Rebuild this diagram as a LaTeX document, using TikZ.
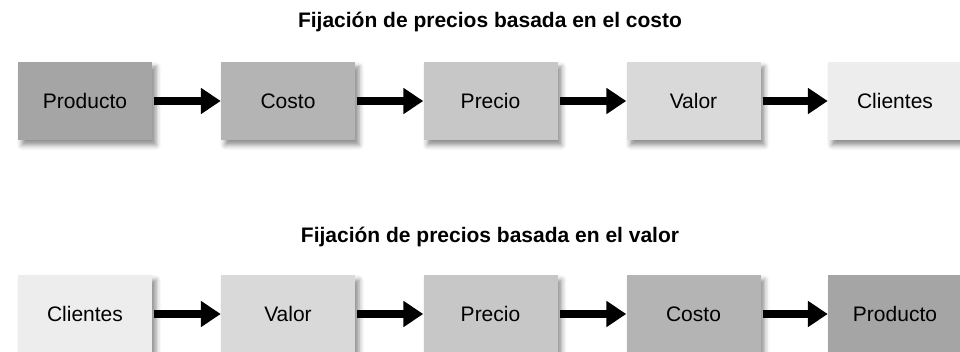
\documentclass[tikz,border=0pt]{standalone}
\usepackage{fontspec}
\setmainfont{Liberation Sans}
\usepackage{tikz}
\usetikzlibrary{arrows.meta,positioning,shadows.blur}
\usepackage{xcolor}
\definecolor{gA}{HTML}{A5A5A5}
\definecolor{gB}{HTML}{B4B4B4}
\definecolor{gC}{HTML}{C7C7C7}
\definecolor{gD}{HTML}{D9D9D9}
\definecolor{gE}{HTML}{EDEDED}

\tikzset{
  stage/.style={minimum width=134pt,minimum height=78pt,inner sep=0pt,
    font=\fontsize{21}{25}\selectfont,
    blur shadow={shadow xshift=4pt,shadow yshift=-5pt,shadow blur radius=5pt,shadow opacity=45}},
  heading/.style={anchor=base,font=\bfseries\fontsize{21}{25}\selectfont},
  flow/.style={line width=8pt,-{Triangle[length=20pt,width=25pt]},shorten <=2pt}
}

\begin{document}
\begin{tikzpicture}[x=1pt,y=-1pt]
  \useasboundingbox (0,0) rectangle (960,352);
  \clip (0,0) rectangle (960,352);
  % costo
  \node[heading] (titlecost) at (490,28) {Fijación de precios basada en el costo};
  \node[stage,fill=gA] (cprod) at (85,101) {Producto};
  \node[stage,fill=gB] (ccost) at (288,101) {Costo};
  \node[stage,fill=gC] (cprice) at (490.5,101) {Precio};
  \node[stage,fill=gD] (cval) at (693.5,101) {Valor};
  \node[stage,fill=gE] (cclient) at (895,101) {Clientes};
  \draw[flow] (cprod)--(ccost);
  \draw[flow] (ccost)--(cprice);
  \draw[flow] (cprice)--(cval);
  \draw[flow] (cval)--(cclient);
  % valor
  \node[heading] (titleval) at (490,243) {Fijación de precios basada en el valor};
  \node[stage,fill=gE] (vclient) at (85,314) {Clientes};
  \node[stage,fill=gD] (vval) at (288,314) {Valor};
  \node[stage,fill=gC] (vprice) at (490.5,314) {Precio};
  \node[stage,fill=gB] (vcost) at (693.5,314) {Costo};
  \node[stage,fill=gA] (vprod) at (895,314) {Producto};
  \draw[flow] (vclient)--(vval);
  \draw[flow] (vval)--(vprice);
  \draw[flow] (vprice)--(vcost);
  \draw[flow] (vcost)--(vprod);
\end{tikzpicture}
\end{document}
